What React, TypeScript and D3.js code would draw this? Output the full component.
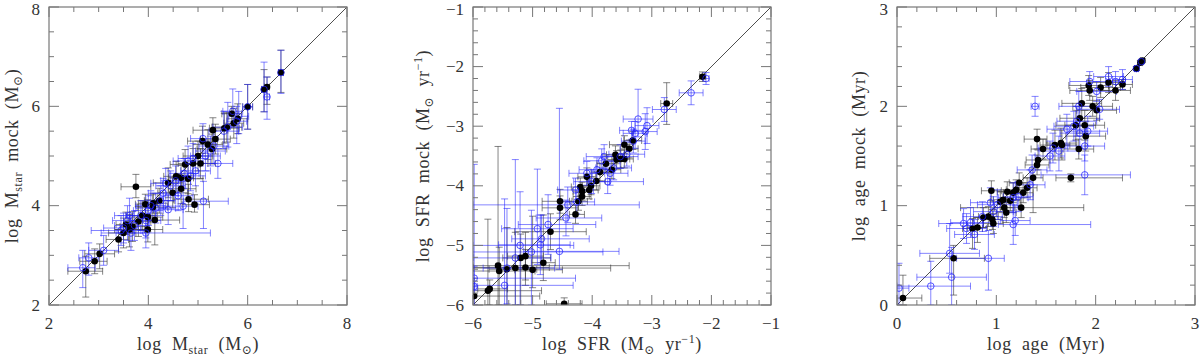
import React from "react";
import * as d3 from "d3";

// [x, y, x-err low, x-err high, y-err low, y-err high]
type Pt = [number, number, number, number, number, number];

const massTicks = [2, 4, 6, 8];
const sfrTicks = [-6, -5, -4, -3, -2, -1];
const ageTicks = [0, 1, 2, 3];

const massBlack: Pt[] = [
  [2.74, 2.68, 0.36, 0.34, 0.52, 0.3], [2.92, 2.88, 0.3, 0.25, 0.25, 0.25],
  [3.02, 3.03, 0.3, 0.3, 0.3, 0.2], [3.4, 3.32, 0.25, 0.2, 0.25, 0.2],
  [3.5, 3.45, 0.3, 0.25, 0.3, 0.3], [3.55, 3.62, 0.2, 0.2, 0.2, 0.25],
  [3.62, 3.52, 0.3, 0.3, 0.35, 0.3], [3.68, 3.58, 0.25, 0.3, 0.3, 0.3],
  [3.75, 4.38, 0.3, 0.3, 0.22, 0.25], [3.8, 3.68, 0.2, 0.25, 0.3, 0.3],
  [3.88, 3.8, 0.25, 0.3, 0.3, 0.3], [3.94, 4.03, 0.2, 0.25, 0.25, 0.2],
  [3.99, 3.77, 0.3, 0.3, 0.3, 0.35], [3.99, 3.52, 0.3, 0.3, 0.25, 0.3],
  [4.09, 3.97, 0.3, 0.3, 0.3, 0.25], [4.1, 4.05, 0.3, 0.3, 0.2, 0.2],
  [4.13, 3.71, 0.35, 0.5, 0.5, 0.3], [4.22, 4.1, 0.3, 0.3, 0.25, 0.25],
  [4.4, 4.46, 0.3, 0.3, 0.3, 0.3], [4.49, 4.26, 0.3, 0.3, 0.3, 0.3],
  [4.56, 4.59, 0.25, 0.3, 0.3, 0.3], [4.66, 4.56, 0.25, 0.25, 0.25, 0.25],
  [4.66, 4.34, 0.25, 0.3, 0.3, 0.3], [4.74, 4.83, 0.3, 0.3, 0.25, 0.3],
  [4.8, 4.54, 0.3, 0.3, 0.3, 0.3], [4.81, 4.13, 0.3, 0.4, 0.25, 0.3],
  [4.93, 4.02, 0.25, 0.3, 0.15, 0.2], [4.9, 4.85, 0.3, 0.3, 0.3, 0.3],
  [5.0, 5.0, 0.3, 0.3, 0.3, 0.3], [5.05, 4.85, 0.3, 0.3, 0.3, 0.3],
  [5.09, 5.3, 0.3, 0.3, 0.25, 0.3], [5.2, 5.23, 0.3, 0.3, 0.3, 0.3],
  [5.28, 5.14, 0.3, 0.3, 0.3, 0.3], [5.3, 5.52, 0.4, 0.3, 0.3, 0.25],
  [5.35, 5.34, 0.3, 0.3, 0.3, 0.3], [5.53, 5.56, 0.3, 0.3, 0.3, 0.3],
  [5.58, 5.58, 0.3, 0.3, 0.3, 0.3], [5.68, 5.85, 0.2, 0.2, 0.2, 0.15],
  [5.72, 5.66, 0.2, 0.2, 0.3, 0.3], [5.8, 5.75, 0.2, 0.2, 0.3, 0.3],
  [6.0, 5.99, 0.1, 0.1, 0.45, 0.45], [6.33, 6.34, 0.05, 0.05, 0.45, 0.4],
  [6.39, 6.39, 0.05, 0.05, 0.35, 0.2], [6.67, 6.68, 0.05, 0.05, 0.4, 0.45],
];

const massBlue: Pt[] = [
  [2.68, 2.75, 0.3, 0.25, 0.4, 0.35], [2.8, 2.95, 0.2, 0.2, 0.35, 0.3],
  [3.1, 3.1, 0.3, 0.3, 0.3, 0.3], [3.45, 3.5, 0.6, 0.4, 0.3, 0.3],
  [3.5, 3.55, 0.4, 0.3, 0.3, 0.3], [3.58, 3.7, 0.3, 0.3, 0.4, 0.3],
  [3.62, 3.8, 0.3, 0.4, 0.3, 0.35], [3.65, 3.45, 0.3, 0.3, 0.35, 0.35],
  [3.72, 3.6, 0.4, 0.3, 0.3, 0.3], [3.85, 3.8, 0.3, 0.3, 0.3, 0.3],
  [3.95, 3.45, 0.9, 1.3, 0.3, 0.3], [3.95, 3.7, 0.3, 0.3, 0.35, 0.3],
  [4.0, 3.9, 0.3, 0.3, 0.3, 0.3], [4.05, 4.0, 0.3, 0.3, 0.3, 0.3],
  [4.15, 3.95, 0.4, 0.4, 0.3, 0.3], [4.25, 4.1, 0.3, 0.3, 0.3, 0.3],
  [4.3, 4.25, 0.3, 0.3, 0.3, 0.3], [4.35, 4.45, 0.3, 0.3, 0.35, 0.3],
  [4.4, 3.92, 0.3, 0.3, 0.3, 0.3], [4.45, 4.4, 0.3, 0.3, 0.3, 0.3],
  [4.55, 4.5, 0.3, 0.3, 0.3, 0.3], [4.6, 4.2, 0.3, 0.3, 0.3, 0.3],
  [4.7, 3.99, 0.4, 0.3, 0.45, 0.5], [4.72, 4.65, 0.3, 0.3, 0.3, 0.3],
  [4.8, 4.9, 0.3, 0.3, 0.3, 0.3], [4.85, 4.6, 0.3, 0.3, 0.3, 0.3],
  [4.9, 4.95, 0.3, 0.3, 0.3, 0.3], [4.95, 4.7, 0.3, 0.3, 0.3, 0.3],
  [5.11, 4.09, 0.4, 0.5, 0.55, 0.4], [5.1, 5.35, 0.25, 0.3, 0.35, 0.3],
  [5.15, 5.0, 0.3, 0.3, 0.3, 0.3], [5.25, 5.1, 0.3, 0.3, 0.3, 0.3],
  [5.32, 5.2, 0.3, 0.3, 0.35, 0.3], [5.4, 4.85, 0.3, 0.3, 0.3, 0.3],
  [5.52, 5.5, 0.3, 0.3, 0.35, 0.4], [5.6, 5.58, 0.3, 0.3, 0.4, 0.5],
  [5.7, 5.9, 0.2, 0.2, 0.3, 0.45], [5.78, 5.7, 0.2, 0.2, 0.45, 0.3],
  [5.82, 5.8, 0.2, 0.2, 0.35, 0.5], [6.0, 5.99, 0.1, 0.1, 0.45, 0.45],
  [6.33, 6.34, 0.05, 0.05, 0.45, 0.55], [6.39, 6.19, 0.05, 0.05, 0.45, 0.4],
  [6.67, 6.68, 0.05, 0.05, 0.42, 0.45],
];

const sfrBlack: Pt[] = [
  [-5.98, -5.85, 0.02, 1.1, 0.15, 0.3], [-5.75, -5.76, 0.25, 0.9, 0.24, 1.2],
  [-5.72, -5.73, 0.2, 0.3, 0.27, 0.15], [-5.58, -5.34, 0.42, 2.2, 0.66, 2.0],
  [-5.56, -5.43, 0.44, 0.6, 0.57, 0.4], [-5.43, -5.4, 0.3, 0.5, 0.6, 0.7],
  [-5.29, -5.38, 0.71, 1.6, 0.62, 0.6], [-5.2, -5.21, 0.3, 0.5, 0.79, 0.4],
  [-5.12, -5.18, 0.3, 0.3, 0.4, 0.4], [-5.12, -5.37, 0.88, 0.4, 0.3, 0.3],
  [-5.0, -5.41, 0.3, 0.5, 0.3, 0.9], [-4.82, -5.29, 0.2, 0.2, 0.3, 0.8],
  [-4.7, -4.77, 0.6, 0.6, 0.3, 0.3], [-4.47, -5.98, 0.3, 0.3, 0.02, 0.1],
  [-4.54, -4.26, 0.3, 0.2, 0.2, 0.2], [-4.54, -4.37, 0.3, 0.3, 0.2, 0.2],
  [-4.28, -4.48, 0.1, 0.15, 0.15, 0.15], [-4.23, -4.26, 0.15, 0.15, 0.15, 0.15],
  [-4.17, -4.18, 0.15, 0.15, 0.15, 0.15], [-4.17, -4.09, 0.15, 0.15, 0.15, 0.15],
  [-4.2, -4.02, 0.15, 0.15, 0.15, 0.15], [-4.09, -3.85, 0.15, 0.15, 0.15, 0.15],
  [-4.05, -4.07, 0.15, 0.15, 0.15, 0.15], [-4.02, -4.0, 0.15, 0.15, 0.15, 0.15],
  [-3.93, -3.92, 0.15, 0.15, 0.15, 0.15], [-3.87, -3.77, 0.15, 0.15, 0.15, 0.15],
  [-3.77, -3.63, 0.15, 0.15, 0.15, 0.15], [-3.67, -3.73, 0.15, 0.15, 0.15, 0.15],
  [-3.61, -3.48, 0.15, 0.15, 0.15, 0.15], [-3.59, -3.56, 0.15, 0.15, 0.15, 0.15],
  [-3.52, -3.55, 0.15, 0.15, 0.15, 0.15], [-3.46, -3.55, 0.15, 0.15, 0.15, 0.15],
  [-3.46, -3.31, 0.25, 0.15, 0.15, 0.15], [-3.38, -3.38, 0.15, 0.15, 0.15, 0.15],
  [-3.32, -3.24, 0.15, 0.15, 0.15, 0.15], [-2.75, -2.62, 0.1, 0.1, 0.35, 0.35],
  [-2.15, -2.17, 0.05, 0.05, 0.08, 0.08],
];

const sfrBlue: Pt[] = [
  [-5.98, -5.69, 0.02, 0.05, 0.3, 2.05], [-5.98, -5.55, 0.02, 1.7, 0.2, 0.2],
  [-5.47, -5.67, 0.5, 1.15, 0.33, 1.45], [-5.43, -5.38, 0.4, 0.8, 0.6, 1.0],
  [-5.29, -5.21, 0.7, 0.6, 0.79, 1.65], [-5.21, -5.0, 0.79, 0.9, 1.0, 0.9],
  [-5.02, -5.11, 0.98, 1.2, 0.89, 0.7], [-4.92, -4.72, 0.6, 0.6, 0.6, 1.0],
  [-4.87, -4.99, 0.7, 0.5, 0.5, 0.5], [-4.85, -4.89, 0.5, 0.8, 0.4, 0.4],
  [-4.74, -4.65, 0.5, 0.8, 0.5, 0.5], [-4.55, -5.1, 0.6, 1.0, 0.3, 2.4],
  [-4.44, -4.54, 0.5, 0.6, 0.3, 0.3], [-4.41, -4.32, 1.59, 1.2, 0.3, 0.3],
  [-4.28, -4.07, 0.3, 0.3, 0.2, 0.2], [-4.26, -4.27, 0.3, 0.3, 0.2, 0.2],
  [-4.09, -3.79, 0.3, 0.3, 0.2, 0.2], [-4.01, -3.93, 0.3, 0.3, 0.2, 0.2],
  [-3.92, -3.73, 0.3, 0.3, 0.2, 0.2], [-3.84, -3.58, 0.3, 0.3, 0.2, 0.2],
  [-3.8, -3.51, 0.3, 0.3, 0.2, 0.2], [-3.74, -3.93, 0.3, 0.6, 0.2, 0.2],
  [-3.7, -3.79, 0.3, 0.3, 0.2, 0.2], [-3.64, -3.7, 0.3, 0.3, 0.2, 0.2],
  [-3.53, -3.51, 0.3, 0.3, 0.2, 0.2], [-3.42, -3.47, 0.3, 0.3, 0.2, 0.2],
  [-3.34, -3.07, 0.2, 0.2, 0.15, 0.15], [-3.31, -3.25, 0.2, 0.2, 0.2, 0.2],
  [-3.28, -3.12, 0.2, 0.2, 0.25, 0.2], [-3.23, -2.88, 0.25, 0.25, 0.3, 0.5],
  [-3.11, -3.09, 0.2, 0.2, 0.3, 0.3], [-3.08, -2.99, 0.2, 0.2, 0.3, 0.3],
  [-2.79, -2.72, 0.2, 0.2, 0.2, 0.2], [-2.34, -2.44, 0.2, 0.2, 0.2, 0.2],
  [-2.09, -2.2, 0.05, 0.05, 0.1, 0.1],
];

const ageBlack: Pt[] = [
  [0.06, 0.07, 0.06, 0.19, 0.07, 0.23], [0.57, 0.47, 0.24, 0.31, 0.37, 0.13],
  [0.76, 0.77, 0.1, 0.1, 0.2, 0.1], [0.81, 0.78, 0.1, 0.1, 0.15, 0.1],
  [0.87, 0.88, 0.1, 0.1, 0.1, 0.1], [0.92, 0.89, 0.1, 0.1, 0.1, 0.1],
  [0.96, 0.86, 0.1, 0.1, 0.1, 0.1], [0.97, 0.82, 0.1, 0.1, 0.1, 0.1],
  [0.95, 1.15, 0.1, 0.1, 0.1, 0.1], [1.04, 1.04, 0.1, 0.1, 0.1, 0.1],
  [1.07, 1.06, 0.1, 0.1, 0.1, 0.1], [1.08, 0.98, 0.1, 0.1, 0.1, 0.1],
  [1.1, 0.93, 0.1, 0.1, 0.1, 0.1], [1.11, 1.14, 0.1, 0.1, 0.1, 0.1],
  [1.14, 1.05, 0.1, 0.1, 0.1, 0.1], [1.17, 1.13, 0.1, 0.1, 0.1, 0.1],
  [1.2, 1.16, 0.1, 0.1, 0.1, 0.1], [1.23, 1.23, 0.1, 0.1, 0.1, 0.1],
  [1.25, 0.98, 0.61, 0.63, 0.1, 0.1], [1.27, 1.13, 0.1, 0.1, 0.1, 0.1],
  [1.31, 1.18, 0.1, 0.1, 0.1, 0.1], [1.37, 1.28, 0.1, 0.1, 0.35, 0.1],
  [1.41, 1.41, 0.12, 0.12, 0.1, 0.1], [1.41, 1.67, 0.13, 0.1, 0.1, 0.1],
  [1.42, 1.46, 0.12, 0.12, 0.1, 0.1], [1.47, 1.57, 0.12, 0.12, 0.1, 0.1],
  [1.59, 1.61, 0.15, 0.15, 0.15, 0.15], [1.65, 1.63, 0.15, 0.15, 0.15, 0.15],
  [1.66, 1.61, 0.15, 0.15, 0.15, 0.15], [1.75, 1.28, 0.15, 0.52, 0.04, 0.04],
  [1.83, 1.57, 0.15, 0.15, 0.1, 0.1], [1.8, 1.81, 0.2, 0.2, 0.15, 0.15],
  [1.84, 1.88, 0.2, 0.2, 0.15, 0.15], [1.86, 2.03, 0.2, 0.2, 0.15, 0.15],
  [1.89, 1.81, 0.2, 0.2, 0.15, 0.15], [1.9, 1.7, 0.2, 0.2, 0.15, 0.15],
  [1.93, 2.21, 0.2, 0.2, 0.1, 0.1], [1.94, 2.16, 0.2, 0.2, 0.1, 0.1],
  [1.97, 2.0, 0.2, 0.2, 0.1, 0.1], [2.01, 1.96, 0.2, 0.2, 0.1, 0.1],
  [2.05, 2.19, 0.2, 0.2, 0.1, 0.1], [2.13, 2.24, 0.2, 0.15, 0.1, 0.1],
  [2.2, 2.16, 0.15, 0.15, 0.1, 0.1], [2.27, 2.22, 0.1, 0.1, 0.05, 0.05],
  [2.41, 2.38, 0.02, 0.02, 0.02, 0.02], [2.45, 2.44, 0.02, 0.02, 0.02, 0.02],
  [2.47, 2.46, 0.02, 0.02, 0.02, 0.02],
];

const ageBlue: Pt[] = [
  [0.02, 0.17, 0.02, 0.1, 0.17, 0.25], [0.34, 0.19, 0.34, 0.4, 0.19, 0.25],
  [0.55, 0.28, 0.35, 0.35, 0.28, 0.3], [0.53, 0.52, 0.3, 0.3, 0.2, 0.3],
  [0.67, 0.82, 0.25, 0.2, 0.15, 0.15], [0.7, 0.77, 0.2, 0.2, 0.15, 0.15],
  [0.74, 0.83, 0.2, 0.2, 0.15, 0.15], [0.78, 0.71, 0.2, 0.2, 0.15, 0.15],
  [0.92, 0.47, 0.32, 0.16, 0.32, 0.28], [0.86, 0.89, 0.2, 0.2, 0.15, 0.15],
  [0.94, 1.03, 0.2, 0.2, 0.15, 0.15], [0.97, 0.94, 0.2, 0.2, 0.15, 0.15],
  [1.01, 1.01, 0.2, 0.2, 0.15, 0.15], [1.17, 0.81, 0.15, 0.78, 0.2, 0.25],
  [1.19, 0.85, 0.15, 0.15, 0.15, 0.15], [1.17, 1.08, 0.15, 0.15, 0.15, 0.15],
  [1.22, 1.09, 0.15, 0.15, 0.15, 0.15], [1.34, 1.21, 0.15, 0.15, 0.15, 0.15],
  [1.36, 1.36, 0.15, 0.15, 0.15, 0.15], [1.39, 2.0, 0.04, 0.04, 0.1, 0.1],
  [1.54, 1.5, 0.15, 0.15, 0.15, 0.15], [1.57, 1.58, 0.15, 0.15, 0.15, 0.15],
  [1.63, 1.55, 0.2, 0.2, 0.2, 0.15], [1.71, 1.77, 0.2, 0.2, 0.15, 0.15],
  [1.78, 1.8, 0.2, 0.2, 0.15, 0.15], [1.81, 1.85, 0.2, 0.2, 0.15, 0.15],
  [1.83, 2.0, 0.2, 0.2, 0.15, 0.15], [1.84, 1.73, 0.2, 0.2, 0.15, 0.15],
  [1.89, 1.31, 0.44, 0.46, 0.2, 0.2], [1.89, 1.6, 0.2, 0.2, 0.15, 0.15],
  [1.92, 1.75, 0.2, 0.2, 0.15, 0.15], [1.94, 2.25, 0.2, 0.2, 0.1, 0.1],
  [2.01, 2.15, 0.2, 0.2, 0.1, 0.1], [2.04, 1.97, 0.2, 0.2, 0.1, 0.1],
  [2.13, 2.3, 0.15, 0.15, 0.1, 0.1], [2.2, 2.25, 0.1, 0.1, 0.1, 0.1],
  [2.27, 2.27, 0.1, 0.1, 0.1, 0.1], [2.41, 2.38, 0.02, 0.02, 0.02, 0.02],
  [2.46, 2.45, 0.02, 0.02, 0.02, 0.02],
];

const FONT = "'Liberation Serif', 'DejaVu Serif', serif";
const TEXT = "#333";
const AXIS = "#777";
const BLUE = "#2020ff";

type PanelProps = {
  left: number;
  domain: [number, number];
  ticks: number[];
  minorStep: number;
  black: Pt[];
  blue: Pt[];
  ylabelX: number;
  xlabel: React.ReactNode;
  ylabel: React.ReactNode;
};

const top = 7;
const bottom = 305;
const size = 298;

function ErrBars({ pts, x, y, color, opacity }: { pts: Pt[]; x: any; y: any; color: string; opacity: number }) {
  const cap = 3.5;
  return (
    <g stroke={color} strokeOpacity={opacity} strokeWidth={1} fill="none">
      {pts.map((p, i) => {
        const x0 = x(p[0] - p[2]);
        const x1 = x(p[0] + p[3]);
        const y0 = y(p[1] - p[4]);
        const y1 = y(p[1] + p[5]);
        const cx = x(p[0]);
        const cy = y(p[1]);
        return (
          <g key={i}>
            <line x1={x0} x2={x1} y1={cy} y2={cy} />
            <line x1={x0} x2={x0} y1={cy - cap} y2={cy + cap} />
            <line x1={x1} x2={x1} y1={cy - cap} y2={cy + cap} />
            <line x1={cx} x2={cx} y1={y0} y2={y1} />
            <line x1={cx - cap} x2={cx + cap} y1={y0} y2={y0} />
            <line x1={cx - cap} x2={cx + cap} y1={y1} y2={y1} />
          </g>
        );
      })}
    </g>
  );
}

function Panel({ left, domain, ticks, minorStep, black, blue, ylabelX, xlabel, ylabel }: PanelProps) {
  const x = d3.scaleLinear().domain(domain).range([left, left + size]);
  const y = d3.scaleLinear().domain(domain).range([bottom, top]);
  const right = left + size;
  const minor = d3.range(domain[0], domain[1] + 1e-9, minorStep).filter(
    (v) => !ticks.some((t) => Math.abs(t - v) < 1e-6)
  );
  const fmt = (v: number) => (v < 0 ? "\u2212" + Math.abs(v) : String(v));
  const major = 10;
  const small = 5;

  return (
    <g>
      <defs>
        <clipPath id={`clip${left}`}>
          <rect x={left} y={top} width={size} height={bottom - top} />
        </clipPath>
      </defs>
      <g clipPath={`url(#clip${left})`}>
        <line x1={x(domain[0])} y1={y(domain[0])} x2={x(domain[1])} y2={y(domain[1])} stroke="#222" strokeWidth={0.8} />
        <ErrBars pts={black} x={x} y={y} color="#333" opacity={0.6} />
        <ErrBars pts={blue} x={x} y={y} color={BLUE} opacity={0.55} />
        {black.map((p, i) => (
          <circle key={"b" + i} cx={x(p[0])} cy={y(p[1])} r={3.3} fill="#000" />
        ))}
        {blue.map((p, i) => (
          <circle key={"u" + i} cx={x(p[0])} cy={y(p[1])} r={3.3} fill="none" stroke={BLUE} strokeOpacity={0.75} strokeWidth={1} />
        ))}
      </g>
      <g stroke={AXIS} strokeWidth={1}>
        {ticks.map((t) => (
          <g key={"M" + t}>
            <line x1={x(t)} x2={x(t)} y1={bottom} y2={bottom - major} />
            <line x1={x(t)} x2={x(t)} y1={top} y2={top + major} />
            <line x1={left} x2={left + major} y1={y(t)} y2={y(t)} />
            <line x1={right} x2={right - major} y1={y(t)} y2={y(t)} />
          </g>
        ))}
        {minor.map((t) => (
          <g key={"m" + t}>
            <line x1={x(t)} x2={x(t)} y1={bottom} y2={bottom - small} />
            <line x1={x(t)} x2={x(t)} y1={top} y2={top + small} />
            <line x1={left} x2={left + small} y1={y(t)} y2={y(t)} />
            <line x1={right} x2={right - small} y1={y(t)} y2={y(t)} />
          </g>
        ))}
        <rect x={left} y={top} width={size} height={bottom - top} fill="none" strokeWidth={1.2} />
      </g>
      <g fill={TEXT} fontFamily={FONT} fontSize={17}>
        {ticks.map((t) => (
          <text key={"xl" + t} x={x(t)} y={329} textAnchor="middle">
            {fmt(t)}
          </text>
        ))}
        {ticks.map((t) => (
          <text key={"yl" + t} x={left - 9} y={Math.max(y(t) + 5.5, 15)} textAnchor="end">
            {fmt(t)}
          </text>
        ))}
        <text x={left + size / 2} y={350} textAnchor="middle" letterSpacing={0.6} fontSize={18} xmlSpace="preserve">
          {xlabel}
        </text>
        <text
          transform={`translate(${ylabelX},${(top + bottom) / 2}) rotate(-90)`}
          textAnchor="middle"
          dy={6}
          letterSpacing={0.6}
          fontSize={18}
          xmlSpace="preserve"
        >
          {ylabel}
        </text>
      </g>
    </g>
  );
}

const sun = (
  <>
    M<tspan fontSize={12} dy={4}>{"\u2299"}</tspan>
    <tspan dy={-4}>)</tspan>
  </>
);

export default function App() {
  return (
    <svg
      width={1200}
      height={356}
      style={{ position: "absolute", left: 0, top: 0, background: "#fff" }}
    >
      <Panel
        left={49}
        domain={[2, 8]}
        ticks={massTicks}
        minorStep={0.5}
        black={massBlack}
        blue={massBlue}
        ylabelX={12}
        xlabel={
          <>
            {"log  M"}<tspan fontSize={12} dy={4}>star</tspan>
            <tspan dy={-4}>{"  ("}</tspan>
            {sun}
          </>
        }
        ylabel={
          <>
            {"log  M"}<tspan fontSize={12} dy={4}>star</tspan>
            <tspan dy={-4}>{"  mock  ("}</tspan>
            {sun}
          </>
        }
      />
      <Panel
        left={473}
        domain={[-6, -1]}
        ticks={sfrTicks}
        minorStep={0.2}
        black={sfrBlack}
        blue={sfrBlue}
        ylabelX={423}
        xlabel={
          <>
            {"log  SFR  (M"}<tspan fontSize={12} dy={4}>{"\u2299"}</tspan>
            <tspan dy={-4}>{"  yr"}</tspan>
            <tspan fontSize={12} dy={-7}>{"\u22121"}</tspan>
            <tspan dy={7}>)</tspan>
          </>
        }
        ylabel={
          <>
            {"log  SFR  mock  (M"}<tspan fontSize={12} dy={4}>{"\u2299"}</tspan>
            <tspan dy={-4}>{"  yr"}</tspan>
            <tspan fontSize={12} dy={-7}>{"\u22121"}</tspan>
            <tspan dy={7}>)</tspan>
          </>
        }
      />
      <Panel
        left={897}
        domain={[0, 3]}
        ticks={ageTicks}
        minorStep={0.2}
        black={ageBlack}
        blue={ageBlue}
        ylabelX={859}
        xlabel={<>{"log  age  (Myr)"}</>}
        ylabel={<>{"log  age  mock  (Myr)"}</>}
      />
    </svg>
  );
}
